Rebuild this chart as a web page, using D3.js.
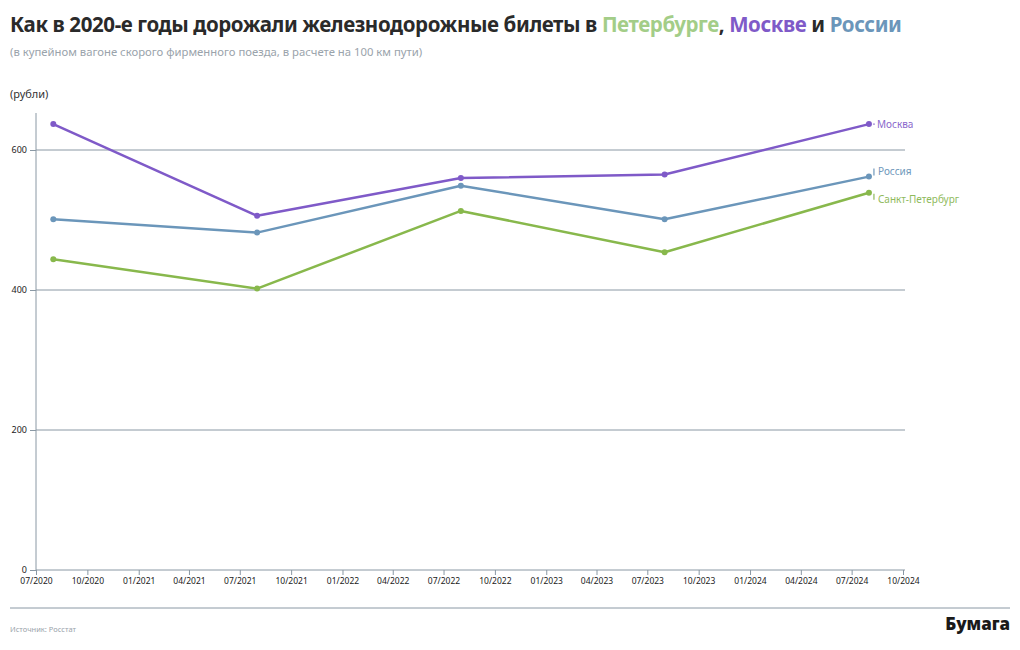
<!DOCTYPE html>
<html><head><meta charset="utf-8">
<script src="https://cdn.jsdelivr.net/npm/d3@7"></script>
<style>
body{margin:0;background:#fff;}
svg{display:block;font-family:"Noto Sans",sans-serif;}
</style></head>
<body><svg id="c" width="1020" height="650"></svg>
<script>
const dates = ["2020-08-01","2021-08-01","2022-08-01","2023-08-01","2024-08-01"];
const moscow = [637, 506, 560, 565, 637];
const russia = [501, 482, 549, 501, 562];
const spb = [444, 402, 513, 454, 539];
const yTicks = [0, 200, 400, 600];
const xTickDates = ["2020-07-01","2020-10-01","2021-01-01","2021-04-01","2021-07-01","2021-10-01","2022-01-01","2022-04-01","2022-07-01","2022-10-01","2023-01-01","2023-04-01","2023-07-01","2023-10-01","2024-01-01","2024-04-01","2024-07-01","2024-10-01"];
const seriesNames = ["Москва","Россия","Санкт-Петербург"];
const seriesColors = ["#7f5ac8","#6b96ba","#88b84c"];
const labelColors = ["#8a68cc","#6f98bb","#8fba5c"];

const svg = d3.select("#c");
const parse = d3.utcParse("%Y-%m-%d");
const x = d3.scaleUtc().domain([parse("2020-07-01"), parse("2024-10-01")]).range([36, 903]);
const y = d3.scaleLinear().domain([0, 650]).range([570, 115]);

// Title
const t = svg.append("text").attr("x",10).attr("y",32).attr("font-size",20.5).attr("letter-spacing",-0.4).attr("font-weight",700).attr("fill","#2a2a2a");
t.append("tspan").text("Как в 2020-е годы дорожали железнодорожные билеты в ");
t.append("tspan").attr("fill","#a3cd88").text("Петербурге");
t.append("tspan").text(", ");
t.append("tspan").attr("fill","#7f5ac8").text("Москве");
t.append("tspan").text(" и ");
t.append("tspan").attr("fill","#6b96ba").text("России");
svg.append("text").attr("x",10).attr("y",56).attr("font-size",11.3).attr("fill","#9aa3ab").text("(в купейном вагоне скорого фирменного поезда, в расчете на 100 км пути)");
svg.append("text").attr("x",10).attr("y",98).attr("font-size",11).attr("fill","#333").text("(рубли)");

// grid
svg.append("g").selectAll("line").data(yTicks.filter(d=>d>0)).join("line")
  .attr("x1",36).attr("x2",905).attr("y1",d=>y(d)).attr("y2",d=>y(d))
  .attr("stroke","#8a98a4").attr("stroke-width",1);

// y axis
const yAxis = svg.append("g").attr("transform","translate(36,0)")
  .call(d3.axisLeft(y).tickValues(yTicks).tickSize(6).tickPadding(3));
yAxis.select(".domain").attr("d","M0,113V570");
yAxis.selectAll("path,line").attr("stroke","#8a98a4");
yAxis.selectAll("text").attr("font-size",9).attr("fill","#222").attr("font-family","Noto Sans");

// x axis
const xAxis = svg.append("g").attr("transform","translate(0,570)")
  .call(d3.axisBottom(x).tickValues(xTickDates.map(parse)).tickFormat(d3.utcFormat("%m/%Y")).tickSize(5).tickPadding(3));
xAxis.select(".domain").attr("d","M36,0H905");
xAxis.selectAll("path,line").attr("stroke","#8a98a4");
xAxis.selectAll("text").attr("font-size",8.5).attr("fill","#222").attr("font-family","Noto Sans");

// lines
const allSeries = [moscow, russia, spb];
const line = d3.line().x((d,i)=>x(parse(dates[i]))).y(d=>y(d));
allSeries.forEach((s,k)=>{
  svg.append("path").datum(s).attr("d",line).attr("fill","none")
    .attr("stroke",seriesColors[k]).attr("stroke-width",2.5).attr("stroke-linejoin","round");
  svg.append("g").selectAll("circle").data(s).join("circle")
    .attr("cx",(d,i)=>x(parse(dates[i]))).attr("cy",d=>y(d)).attr("r",3)
    .attr("fill",seriesColors[k]);
});

// end labels
const lastX = x(parse(dates[dates.length-1]));
svg.append("line").attr("x1",lastX+4).attr("x2",lastX+6).attr("y1",y(moscow[4])).attr("y2",y(moscow[4])).attr("stroke",labelColors[0]).attr("stroke-width",1);
svg.append("text").attr("x",lastX+8).attr("y",y(moscow[4])+4).attr("font-size",10).attr("fill",labelColors[0]).text(seriesNames[0]);
svg.append("line").attr("x1",lastX+5).attr("x2",lastX+5).attr("y1",y(russia[4])-8).attr("y2",y(russia[4])-1).attr("stroke",labelColors[1]).attr("stroke-width",1.2);
svg.append("text").attr("x",lastX+9).attr("y",y(russia[4])-2).attr("font-size",10).attr("fill",labelColors[1]).text(seriesNames[1]);
svg.append("line").attr("x1",lastX+5).attr("x2",lastX+5).attr("y1",y(spb[4])+1).attr("y2",y(spb[4])+7).attr("stroke",labelColors[2]).attr("stroke-width",1.2);
svg.append("text").attr("x",lastX+9).attr("y",y(spb[4])+10).attr("font-size",10).attr("fill",labelColors[2]).text(seriesNames[2]);

// footer
svg.append("line").attr("x1",10).attr("x2",1010).attr("y1",608).attr("y2",608).attr("stroke","#8a98a4").attr("stroke-width",1);
svg.append("text").attr("x",10).attr("y",632).attr("font-size",7.5).attr("fill","#9aa3ab").text("Источник: Росстат");
svg.append("text").attr("x",1010).attr("y",630).attr("text-anchor","end").attr("font-size",17).attr("font-weight",900).attr("fill","#1a1a1a").attr("font-family","Noto Sans").text("Бумага");
</script></body></html>
